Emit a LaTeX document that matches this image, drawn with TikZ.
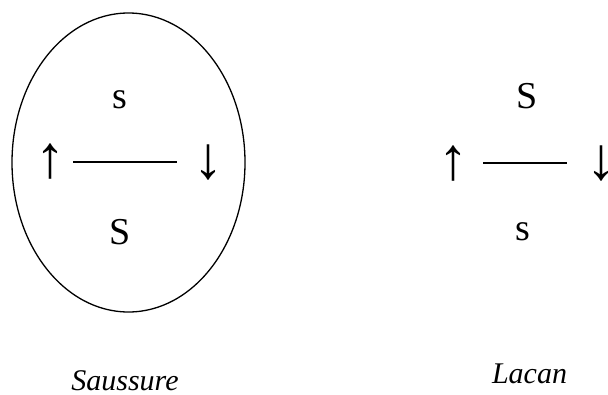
\documentclass[tikz,border=0pt]{standalone}
\usepackage{fontspec}
\setmainfont{Liberation Serif}
\begin{document}
\begin{tikzpicture}[x=1pt,y=-1pt,
  big/.style={inner sep=0pt,font=\fontsize{38}{40}\selectfont},
  arr/.style={inner sep=0pt,font=\fontsize{60}{62}\selectfont},
  lab/.style={inner sep=0pt,anchor=base,font=\fontsize{30}{32}\selectfont\itshape},
  bar/.style={line width=1.3pt}]
\useasboundingbox (0,0) rectangle (608,394);
% Saussure
\draw[line width=1.3pt] (128.5,162.5) ellipse [x radius=116.5, y radius=149.5];
\node[big,anchor=base] (ss) at (120,108) {s};
\node[big,anchor=base] (sS) at (120,244) {S};
\node[arr] (sup) at (50,162) {↑};
\node[arr] (sdown) at (208,163) {↓};
\coordinate (sl) at (73,162);
\coordinate (sr) at (177,162);
\draw[bar] (sl) -- (sr);
\node[lab] (saus) at (125,390) {Saussure};
% Lacan
\node[big,anchor=base] (lS) at (527,108) {S};
\node[big,anchor=base] (ls) at (523,240) {s};
\node[arr] (lup) at (453,164) {↑};
\node[arr] (ldown) at (601,164) {↓};
\coordinate (ll) at (483,163);
\coordinate (lr) at (567,163);
\draw[bar] (ll) -- (lr);
\node[lab] (lacan) at (529.5,383) {Lacan};
\end{tikzpicture}
\end{document}
